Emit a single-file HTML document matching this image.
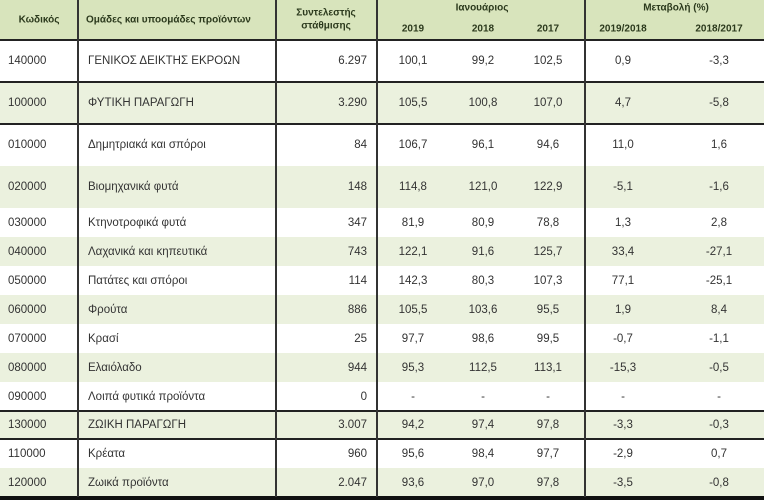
<!DOCTYPE html>
<html><head><meta charset="utf-8"><style>
body{margin:0;width:768px;height:500px;background:#fff;position:relative;overflow:hidden;font-family:"Liberation Sans","DejaVu Sans",sans-serif;color:#333}
.abs{position:absolute;box-sizing:border-box}
.c{position:absolute;font-size:11.5px;white-space:nowrap;transform:translateY(-50%)}
.h{font-weight:bold;font-size:10px;color:#2c3a1d}
</style></head><body>
<div id="tbl"></div>
<script>
const codes=["140000","100000","010000","020000","030000","040000","050000","060000","070000","080000","090000","130000","110000","120000"];
const names=["ΓΕΝΙΚΟΣ ΔΕΙΚΤΗΣ ΕΚΡΟΩΝ","ΦΥΤΙΚΗ ΠΑΡΑΓΩΓΗ","Δημητριακά και σπόροι","Βιομηχανικά φυτά","Κτηνοτροφικά φυτά","Λαχανικά και κηπευτικά","Πατάτες και σπόροι","Φρούτα","Κρασί","Ελαιόλαδο","Λοιπά φυτικά προϊόντα","ΖΩΙΚΗ ΠΑΡΑΓΩΓΗ","Κρέατα","Ζωικά προϊόντα"];
const weights=["6.297","3.290","84","148","347","743","114","886","25","944","0","3.007","960","2.047"];
const v2019=["100,1","105,5","106,7","114,8","81,9","122,1","142,3","105,5","97,7","95,3","-","94,2","95,6","93,6"];
const v2018=["99,2","100,8","96,1","121,0","80,9","91,6","80,3","103,6","98,6","112,5","-","97,4","98,4","97,0"];
const v2017=["102,5","107,0","94,6","122,9","78,8","125,7","107,3","95,5","99,5","113,1","-","97,8","97,7","97,8"];
const ch1=["0,9","4,7","11,0","-5,1","1,3","33,4","77,1","1,9","-0,7","-15,3","-","-3,3","-2,9","-3,5"];
const ch2=["-3,3","-5,8","1,6","-1,6","2,8","-27,1","-25,1","8,4","-1,1","-0,5","-","-0,3","0,7","-0,8"];
const rowTops=[40,82,124,166,208,237,266,295,324,353,382,411,439,468,497];
const green=[1,3,5,7,9,11,13];
const darkLines=[40,82,124,411,439];
const T=document.getElementById('tbl');
function box(css,name){const d=document.createElement('div');d.className='abs';d.style.cssText=css;


T.appendChild(d);return d;}
function txt(t,x,y,align,cls,name){const d=document.createElement('div');d.className='c '+(cls||'');d.textContent=t;


if(align==='r'){d.style.right=(768-x)+'px';}else if(align==='c'){d.style.left=x+'px';d.style.transform='translate(-50%,-50%)';}else d.style.left=x+'px';
d.style.top=y+'px';T.appendChild(d);}
box('left:0;top:0;width:764px;height:40px;background:#d8e4bc','header-background');
for(const i of green){box(`left:0;top:${rowTops[i]}px;width:764px;height:${rowTops[i+1]-rowTops[i]}px;background:#ebf1de`,'row-band');}
for(const y of darkLines){box(`left:0;top:${y-1}px;width:764px;height:1.5px;background:#222`,'row-divider');}
box('left:0;top:496px;width:764px;height:4px;background:#111','bottom-border');
for(const x of [77,275,376,584]){box(`left:${x}px;top:0;width:1.5px;height:497px;background:#333`,'column-divider');}
txt('Κωδικός',39,20,'c','h','header-code');
txt('Ομάδες και υποομάδες προϊόντων',86,20,'l','h','header-groups');
txt('Συντελεστής',326,13,'c','h','header-weight');
txt('στάθμισης',326,26,'c','h','header-weight-2');
txt('Ιανουάριος',482,8,'c','h','header-january');
txt('Μεταβολή (%)',676,8,'c','h','header-change');
const colX=[413,483,548,623,719];const colN=['2019','2018','2017','2019/2018','2018/2017'];
colN.forEach((n,i)=>txt(n,colX[i],29,'c','h','header-year'));
codes.forEach((c,i)=>{const y=(rowTops[i]+rowTops[i+1])/2;
txt(c,8,y,'l','','code-cell');
txt(names[i],88,y,'l','','name-cell');
txt(weights[i],367,y,'r','','weight-cell');
[v2019,v2018,v2017,ch1,ch2].forEach((arr,k)=>txt(arr[i],colX[k],y,'c','','value-cell'));});
</script>
</body></html>
